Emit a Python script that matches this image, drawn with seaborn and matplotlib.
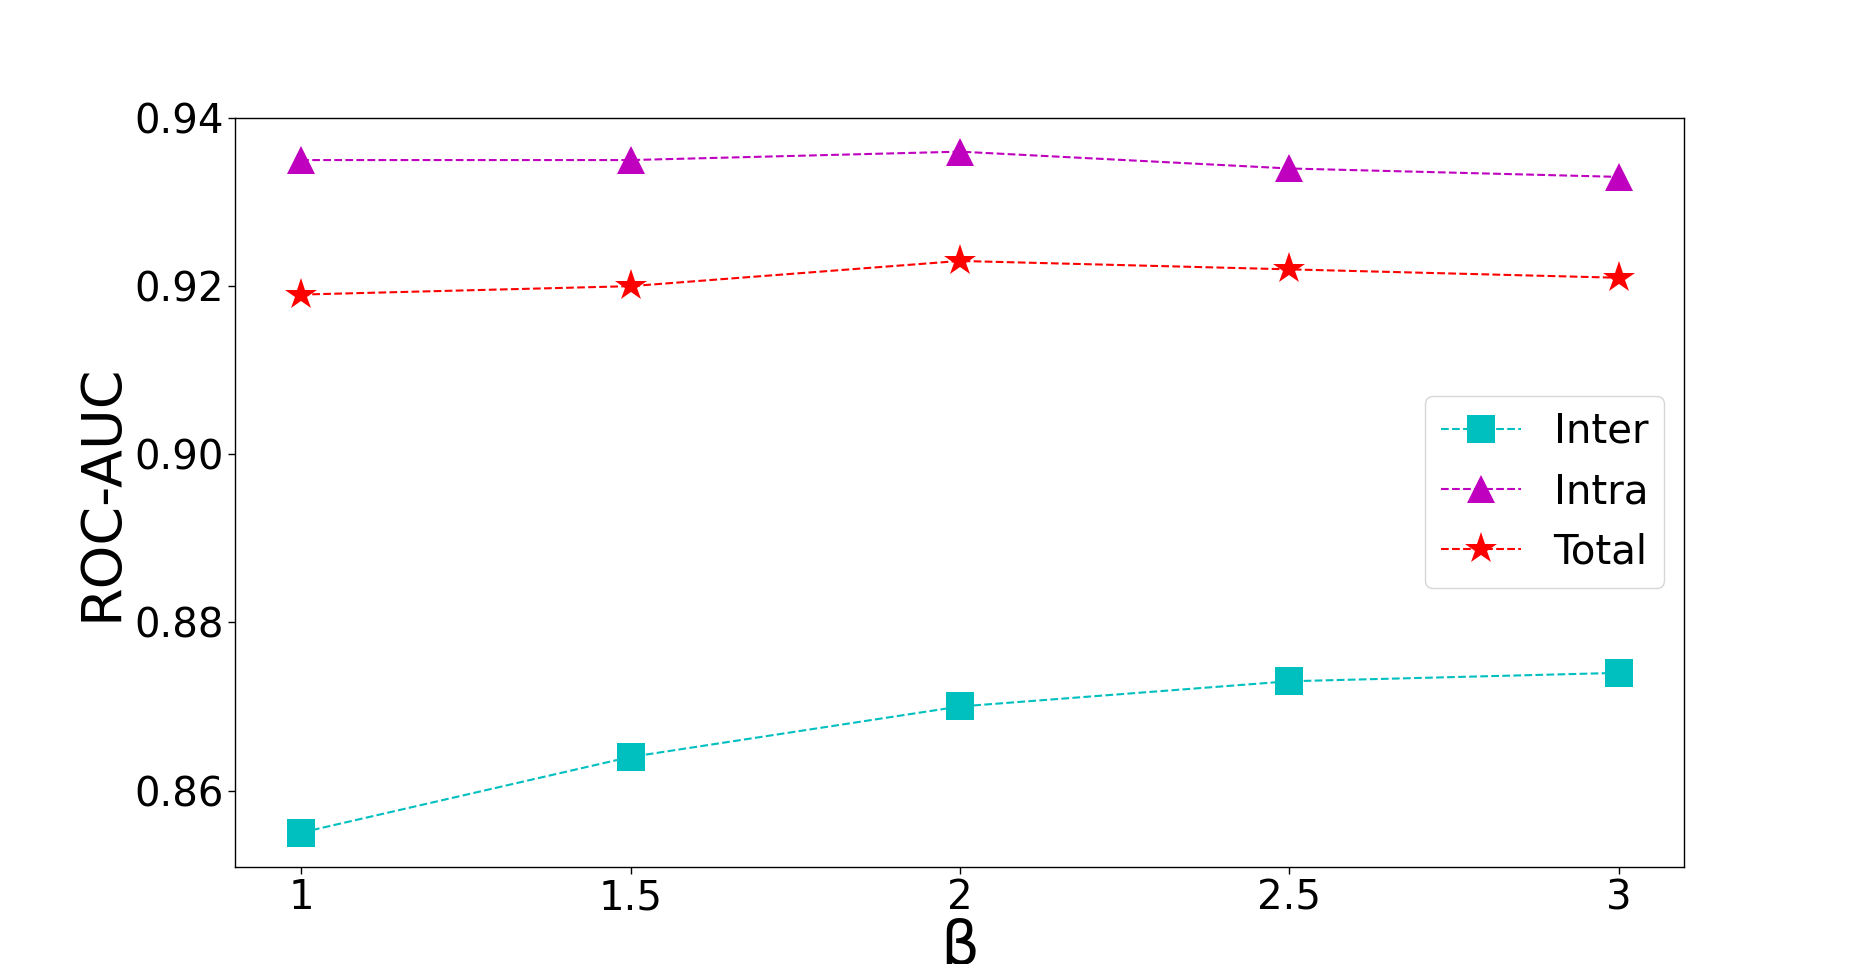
import matplotlib
matplotlib.use("Agg")
import matplotlib.pyplot as plt
import seaborn as sns
import pandas as pd

beta = [1, 1.5, 2, 2.5, 3]
beta_labels = ["1", "1.5", "2", "2.5", "3"]
inter = [0.855, 0.864, 0.870, 0.873, 0.874]
intra = [0.935, 0.935, 0.936, 0.934, 0.933]
total = [0.919, 0.920, 0.923, 0.922, 0.921]

sns.set_style("ticks", {"axes.edgecolor": "black", "xtick.color": "black",
                        "ytick.color": "black", "axes.labelcolor": "black",
                        "text.color": "black"})
plt.rcParams['font.family'] = ['DejaVu Sans']
plt.rcParams['text.color'] = 'black'

fig, ax = plt.subplots(figsize=(18.53, 9.64), dpi=100)
fig.subplots_adjust(left=0.127, right=0.909, top=0.878, bottom=0.101)

series = [("Inter", inter, "c", "s", 20), ("Intra", intra, "m", "^", 20), ("Total", total, "r", "*", 24)]
for name, vals, col, mk, ms in series:
    df = pd.DataFrame({"beta": beta, "auc": vals})
    sns.lineplot(data=df, x="beta", y="auc", ax=ax, color=col, marker=mk,
                 markersize=ms, markeredgewidth=0, linestyle="--", linewidth=1.5,
                 label=name)

ax.set_xticks(beta)
ax.set_xticklabels(beta_labels)
ax.set_yticks([0.86, 0.88, 0.90, 0.92, 0.94])
ax.tick_params(axis="both", labelsize=29, length=5, width=1, direction="out",
               labelcolor="black")
ax.set_xlabel("β", fontsize=44, labelpad=0, color="black")
ax.set_ylabel("ROC-AUC", fontsize=40, color="black")
for s in ax.spines.values():
    s.set_linewidth(1)
    s.set_visible(True)
leg = ax.legend(loc="center right", fontsize=29, frameon=True)
for t in leg.get_texts():
    t.set_color("black")
fig.savefig("out.png", dpi=100)
